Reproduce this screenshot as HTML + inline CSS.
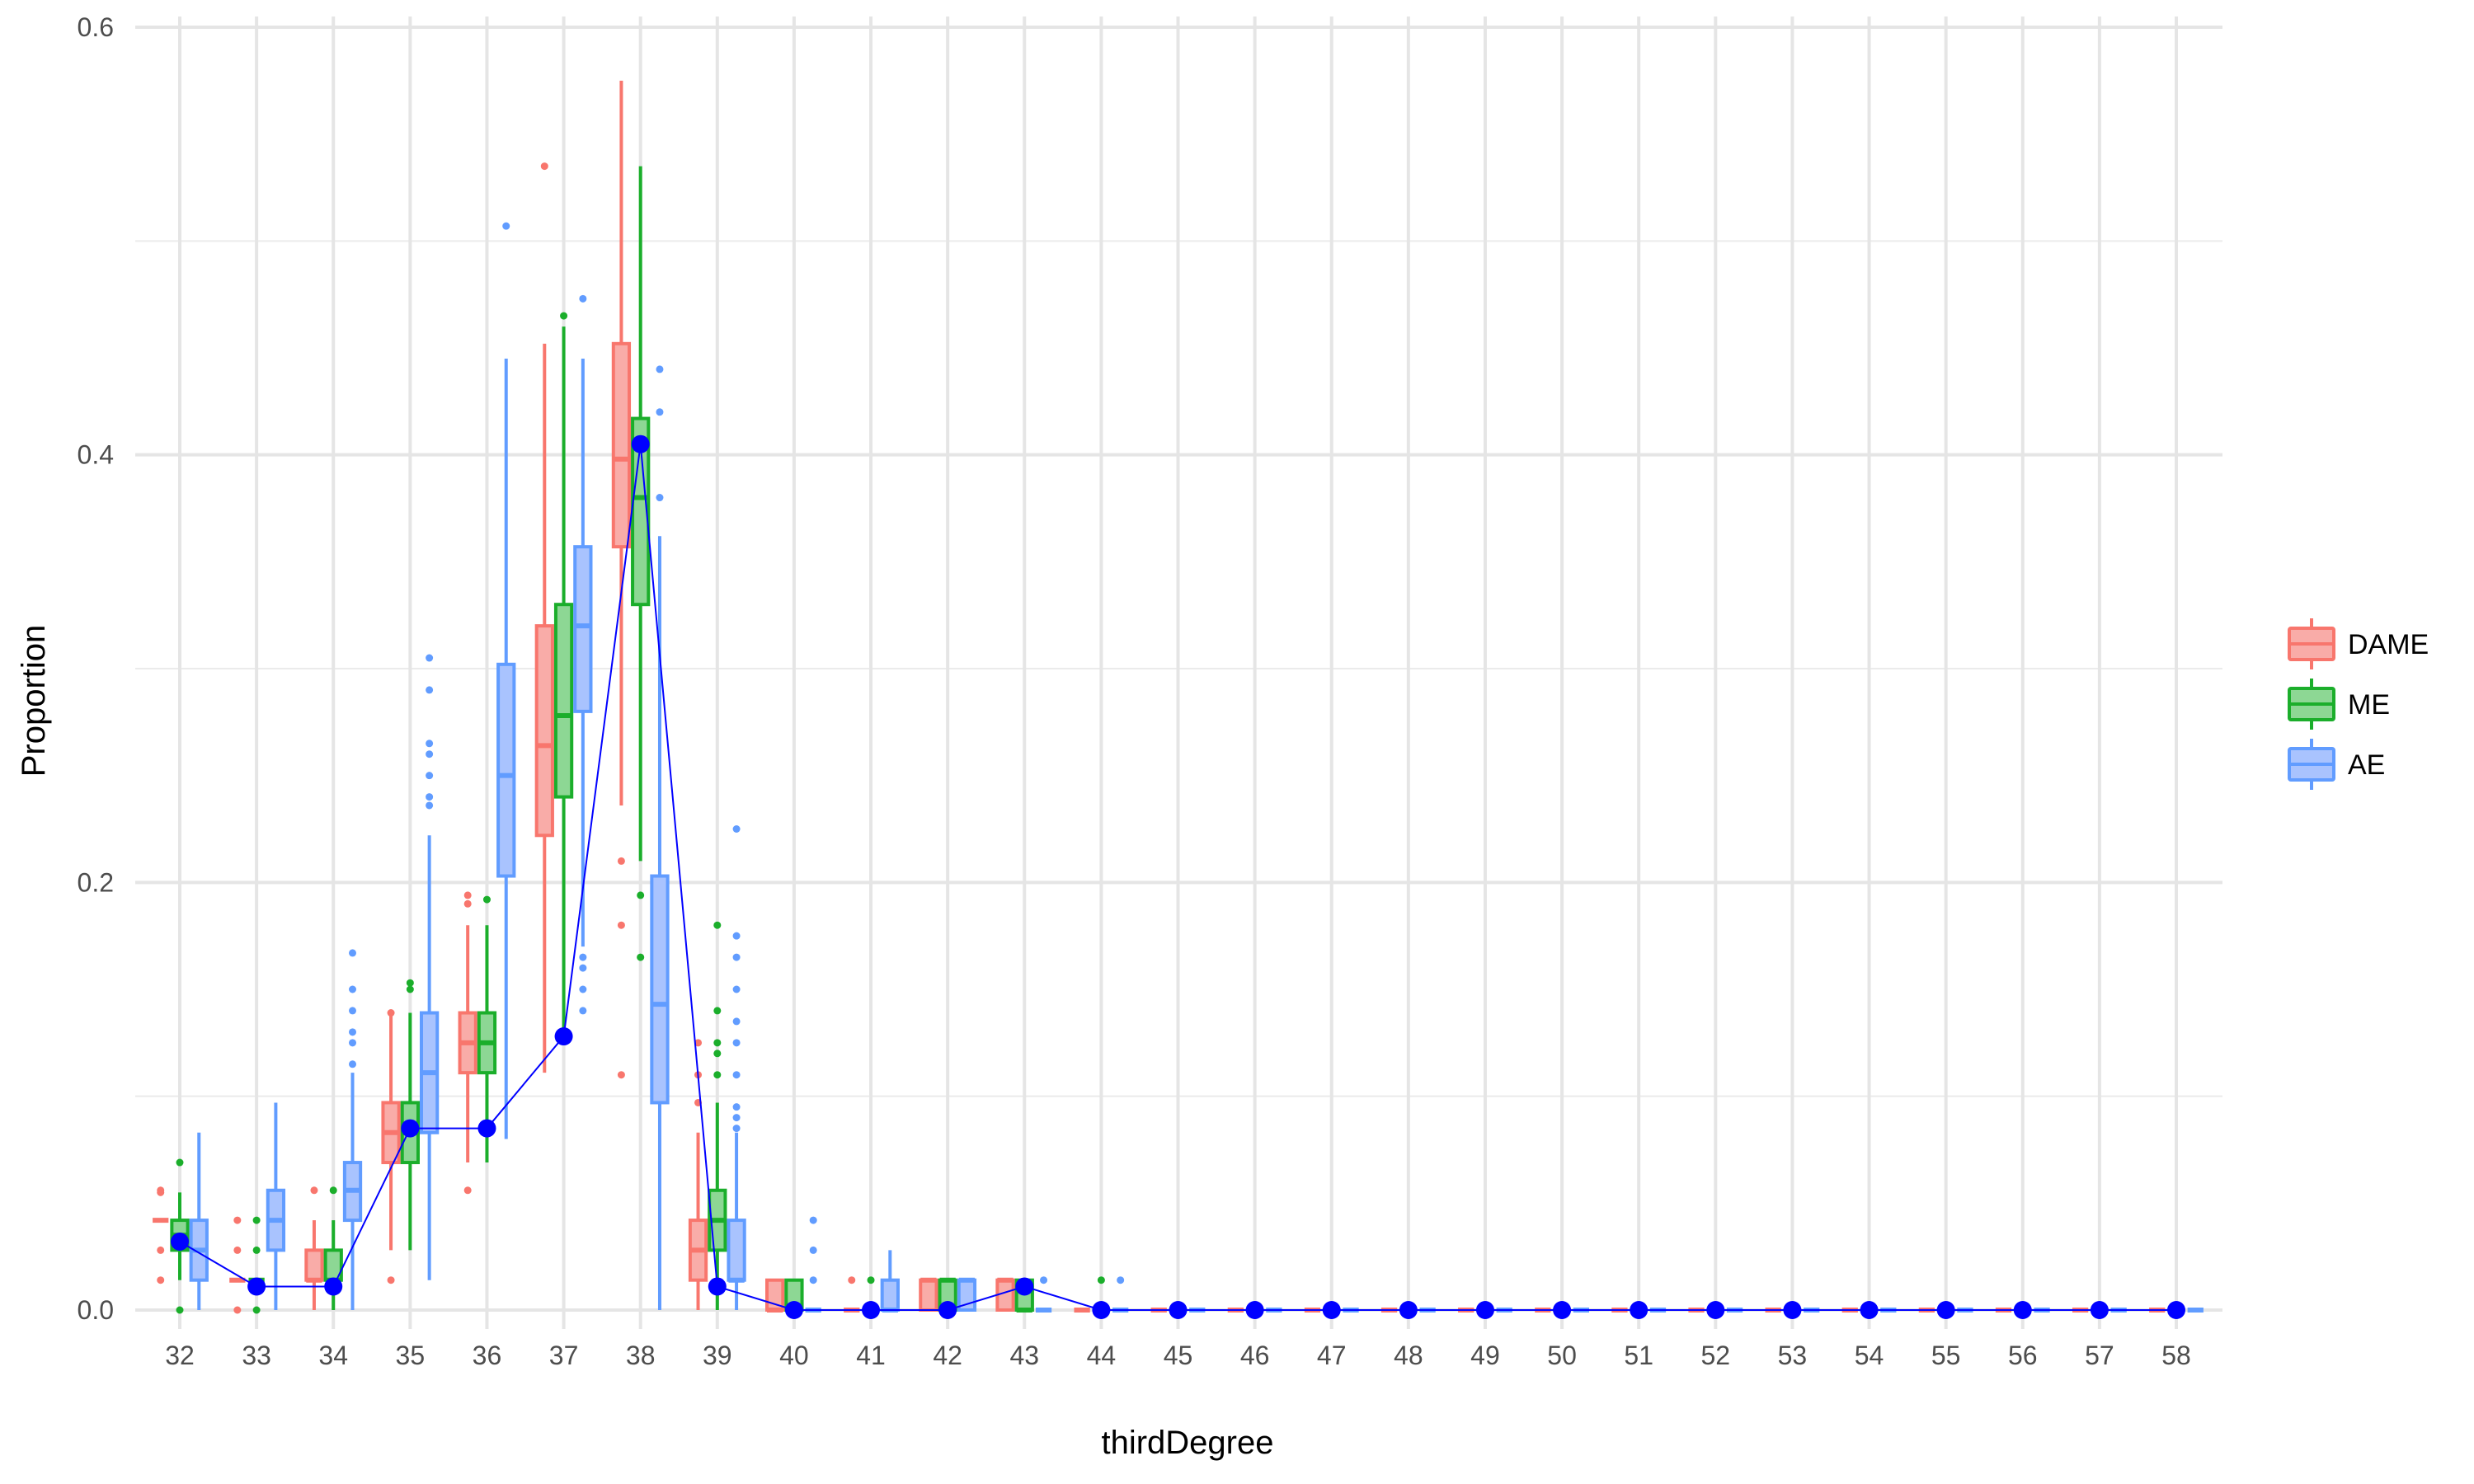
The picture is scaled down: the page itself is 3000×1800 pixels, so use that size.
<!DOCTYPE html>
<html><head><meta charset="utf-8"><style>
body{margin:0;background:#fff;}
svg{display:block;font-family:"Liberation Sans",sans-serif;}
</style></head><body>
<svg id="chart" width="3000" height="1800"></svg>
<script>
const categories=[32,33,34,35,36,37,38,39,40,41,42,43,44,45,46,47,48,49,50,51,52,53,54,55,56,57,58];
const groups=["DAME","ME","AE"];
const colors={DAME:"#F8766D",ME:"#1BAE2B",AE:"#619CFF"};
const fills={DAME:"#F9ACA8",ME:"#8DD794",AE:"#A9C3FE"};
const dameStats=[[0.042,0.042,0.042,0.042,0.042],[0.014,0.014,0.014,0.014,0.014],[0,0.014,0.014,0.028,0.042],[0.028,0.069,0.083,0.097,0.139],[0.069,0.111,0.125,0.139,0.18],[0.111,0.222,0.264,0.32,0.452],[0.236,0.357,0.398,0.452,0.575],[0,0.014,0.028,0.042,0.083],[0,0,0,0.014,0.014],[0,0,0,0,0],[0,0,0.014,0.014,0.014],[0,0,0.014,0.014,0.014],[0,0,0,0,0]];
const meStats=[[0.014,0.028,0.035,0.042,0.055],[0.014,0.014,0.014,0.014,0.014],[0,0.014,0.014,0.028,0.042],[0.028,0.069,0.083,0.097,0.139],[0.069,0.111,0.125,0.139,0.18],[0.125,0.24,0.278,0.33,0.46],[0.21,0.33,0.38,0.417,0.535],[0,0.028,0.042,0.056,0.097],[0,0,0,0.014,0.014],[0,0,0,0,0],[0,0,0.014,0.014,0.014],[0,0,0,0.014,0.014],[0,0,0,0,0]];
const aeStats=[[0,0.014,0.028,0.042,0.083],[0,0.028,0.042,0.056,0.097],[0,0.042,0.056,0.069,0.111],[0.014,0.083,0.111,0.139,0.222],[0.08,0.203,0.25,0.302,0.445],[0.17,0.28,0.32,0.357,0.445],[0,0.097,0.143,0.203,0.362],[0,0.014,0.014,0.042,0.083],[0,0,0,0,0],[0,0,0,0.014,0.028],[0,0,0.014,0.014,0.014],[0,0,0,0,0],[0,0,0,0,0]];
const dameOut=[[0.056,0.055,0.028,0.014],[0.042,0.028,0],[0.056],[0.014,0.139],[0.194,0.19,0.056],[0.535],[0.21,0.18,0.11],[0.097,0.11,0.125],[],[0.014],[],[],[]];
const meOut=[[0.069,0],[0.042,0.028,0],[0.056],[0.153,0.15],[0.192],[0.465],[0.194,0.165],[0.11,0.12,0.125,0.14,0.18],[],[0.014],[],[],[0.014]];
const aeOut=[[],[],[0.125,0.13,0.14,0.15,0.167,0.115],[0.236,0.24,0.25,0.26,0.265,0.29,0.305],[0.507],[0.473,0.165,0.16,0.15,0.14],[0.38,0.42,0.44],[0.085,0.09,0.095,0.11,0.125,0.135,0.15,0.165,0.175,0.225],[0.014,0.028,0.042],[],[],[0.014],[0.014]];
const meanLine=[0.032,0.011,0.011,0.085,0.085,0.128,0.405,0.011,0,0,0,0.011,0,0,0,0,0,0,0,0,0,0,0,0,0,0,0];
const yTicks=[0,0.2,0.4,0.6];
const yMinor=[0.1,0.3,0.5];

const NS="http://www.w3.org/2000/svg";
const svg=document.getElementById('chart');
const X0=218,STEP=(2639-218)/26,Y0=1589,YS=(1589-33)/0.6;
const xS=c=>X0+(c-32)*STEP;
const yS=v=>Y0-v*YS;
function el(t,a,p){const e=document.createElementNS(NS,t);for(const k in a)e.setAttribute(k,a[k]);(p||svg).appendChild(e);return e;}

const grid=el('g',{});


yMinor.forEach(v=>{el('line',{x1:164,x2:2695,y1:yS(v),y2:yS(v),stroke:'#EBEBEB','stroke-width':2},grid);});
yTicks.forEach(v=>{el('line',{x1:164,x2:2695,y1:yS(v),y2:yS(v),stroke:'#E5E5E5','stroke-width':4},grid);});
categories.forEach(c=>{el('line',{x1:xS(c),x2:xS(c),y1:20,y2:1612,stroke:'#E5E5E5','stroke-width':4},grid);});

yTicks.forEach(v=>{const t=el('text',{x:138,y:yS(v)+11,'text-anchor':'end','font-size':32,fill:'#4D4D4D'});t.textContent=v.toFixed(1);

});
categories.forEach(c=>{const t=el('text',{x:xS(c),y:1655,'text-anchor':'middle','font-size':32,fill:'#4D4D4D'});t.textContent=c;

});
const xt=el('text',{x:1440,y:1763,'text-anchor':'middle','font-size':40,fill:'#000'});xt.textContent='thirdDegree';


const yt=el('text',{x:54,y:850,'text-anchor':'middle','font-size':40,fill:'#000',transform:'rotate(-90 54 850)'});yt.textContent='Proportion';



const statsBy={DAME:dameStats,ME:meStats,AE:aeStats};
const outBy={DAME:dameOut,ME:meOut,AE:aeOut};
const BW=STEP*0.25;
groups.forEach((g,gi)=>{
  categories.forEach((c,ci)=>{
    const s=statsBy[g][ci]||[0,0,0,0,0];
    const o=outBy[g][ci]||[];
    const cx=xS(c)+(gi-1)*BW;
    const gg=el('g',{});
    
    
    el('line',{x1:cx,x2:cx,y1:yS(s[4]),y2:yS(s[3]),stroke:colors[g],'stroke-width':4},gg);
    el('line',{x1:cx,x2:cx,y1:yS(s[1]),y2:yS(s[0]),stroke:colors[g],'stroke-width':4},gg);
    el('rect',{x:cx-BW/2+2,y:yS(s[3]),width:BW-4,height:Math.max(0,yS(s[1])-yS(s[3])),fill:fills[g],stroke:colors[g],'stroke-width':4},gg);
    el('line',{x1:cx-BW/2+2,x2:cx+BW/2-2,y1:yS(s[2]),y2:yS(s[2]),stroke:colors[g],'stroke-width':6},gg);
    o.forEach(v=>{el('circle',{cx:cx,cy:yS(v),r:4.5,fill:colors[g]},gg);});
  });
});

const ml=el('g',{});


el('polyline',{points:categories.map((c,i)=>xS(c)+','+yS(meanLine[i])).join(' '),fill:'none',stroke:'#0000FF','stroke-width':2},ml);
categories.forEach((c,i)=>{const p=el('circle',{cx:xS(c),cy:yS(meanLine[i]),r:11,fill:'#0000FF'},ml);

});

const lg=el('g',{});


const legY=[781,854,927];
groups.forEach((g,i)=>{
  const e=el('g',{},lg);
  
  
  const cy=legY[i],cx=2803;
  el('line',{x1:cx,x2:cx,y1:cy-31,y2:cy+31,stroke:colors[g],'stroke-width':4},e);
  el('rect',{x:2776,y:cy-19,width:54,height:38,rx:2,fill:fills[g],stroke:colors[g],'stroke-width':4},e);
  el('line',{x1:2776,x2:2830,y1:cy,y2:cy,stroke:colors[g],'stroke-width':4},e);
  const t=el('text',{x:2847,y:cy+12,'font-size':34,fill:'#000'},e);t.textContent=g;
});
</script>
</body></html>
